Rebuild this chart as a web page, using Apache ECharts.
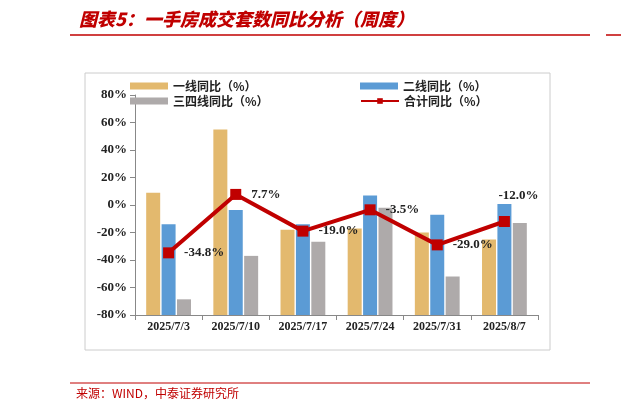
<!DOCTYPE html>
<html lang="zh">
<head>
<meta charset="UTF-8">
<script src="https://cdn.jsdelivr.net/npm/echarts@6/dist/echarts.min.js"></script>
</head>
<body style="margin:0;">
<div id="container" style="width:621px;height:416px;"></div>
<script>
const categories = ['2025/7/3', '2025/7/10', '2025/7/17', '2025/7/24', '2025/7/31', '2025/8/7'];
const tier1 = [9, 55, -18, -17, -20, -25];
const tier2 = [-14, -3.6, -14, 7, -7, 0.7];
const tier34 = [-68.6, -37, -26.7, -2, -52, -13];
const total = [-34.8, 7.7, -19.0, -3.5, -29.0, -12.0];
const yMin = -80;

// bars drawn up from the bottom of the axis, so shift them onto a hidden 0-based axis
const lift = arr => arr.map(v => v - yMin);

const serif = 'Liberation Serif';
const cjk = 'Noto Sans CJK SC';
const chart = echarts.init(document.getElementById('container'));
const legendBase = {
    itemWidth: 38, itemHeight: 7, itemGap: 6,
    textStyle: { fontFamily: cjk, fontSize: 12, color: '#222', fontWeight: 'bold' }
};
// last label sits above-right of its point, as in the source
const totalData = total.map((v, i) => i === total.length - 1
    ? { value: v, label: { position: 'top', offset: [14, -4] } }
    : v);
chart.setOption({
    animation: false,
    title: {
        text: '图表5：一手房成交套数同比分析（周度）', left: 74, top: 5,
        textStyle: { color: '#c00000', fontFamily: cjk, fontStyle: 'italic', fontWeight: 900, fontSize: 18 }
    },
    graphic: [
        { type: 'line', shape: { x1: 70, y1: 35, x2: 590, y2: 35 }, style: { stroke: '#c00000', lineWidth: 1.5 } },
        { type: 'line', shape: { x1: 606, y1: 35, x2: 621, y2: 35 }, style: { stroke: '#c00000', lineWidth: 1.5 } },
        { type: 'rect', shape: { x: 85, y: 73, width: 465, height: 277 }, style: { fill: 'none', stroke: '#ccc', lineWidth: 1 } },
        { type: 'line', shape: { x1: 70, y1: 383, x2: 590, y2: 383 }, style: { stroke: '#c00000', lineWidth: 1 } },
        { type: 'text', left: 76, top: 387, style: { text: '来源：WIND，中泰证券研究所', fill: '#c00000', font: '12px "Noto Sans CJK SC"' } }
    ],
    legend: [
        Object.assign({ left: 125, top: 75, data: [{ name: '一线同比（%）', icon: 'rect' }] }, legendBase),
        Object.assign({ left: 355, top: 75, data: [{ name: '二线同比（%）', icon: 'rect' }] }, legendBase),
        Object.assign({ left: 125, top: 90, data: [{ name: '三四线同比（%）', icon: 'rect' }] }, legendBase),
        Object.assign({ left: 355, top: 90, data: ['合计同比（%）'] }, legendBase)
    ],
    grid: { left: 135, right: 83, top: 95, bottom: 101 },
    xAxis: {
        type: 'category', data: categories,
        axisLine: { onZero: false, lineStyle: { color: '#888' } },
        axisTick: { show: true, lineStyle: { color: '#888' } },
        axisLabel: { interval: 0, color: '#222', fontFamily: serif, fontWeight: 'bold', fontSize: 12, margin: 6 }
    },
    yAxis: [{
        type: 'value', min: yMin, max: 80, interval: 20,
        axisLine: { show: true, lineStyle: { color: '#888' } },
        axisTick: { show: true, lineStyle: { color: '#888' } },
        splitLine: { show: false },
        axisLabel: { color: '#222', fontFamily: serif, fontWeight: 'bold', fontSize: 13, formatter: '{value}%' }
    }, {
        type: 'value', min: 0, max: 160, show: false, splitLine: { show: false }
    }],
    series: [
        { name: '一线同比（%）', type: 'bar', yAxisIndex: 1, data: lift(tier1), barWidth: 14, barGap: '10%', itemStyle: { color: '#e3b96e' } },
        { name: '二线同比（%）', type: 'bar', yAxisIndex: 1, data: lift(tier2), barWidth: 14, barGap: '10%', itemStyle: { color: '#5b9bd5' } },
        { name: '三四线同比（%）', type: 'bar', yAxisIndex: 1, data: lift(tier34), barWidth: 14, barGap: '10%', itemStyle: { color: '#aeaaaa' } },
        {
            name: '合计同比（%）', type: 'line', data: totalData, z: 5,
            symbol: 'rect', symbolSize: 11,
            lineStyle: { color: '#c00000', width: 4 }, itemStyle: { color: '#c00000' },
            label: {
                show: true, position: 'right', distance: 10, color: '#222',
                fontFamily: serif, fontWeight: 'bold', fontSize: 13,
                formatter: p => p.value.toFixed(1) + '%'
            }
        }
    ]
});
</script>
</body>
</html>
